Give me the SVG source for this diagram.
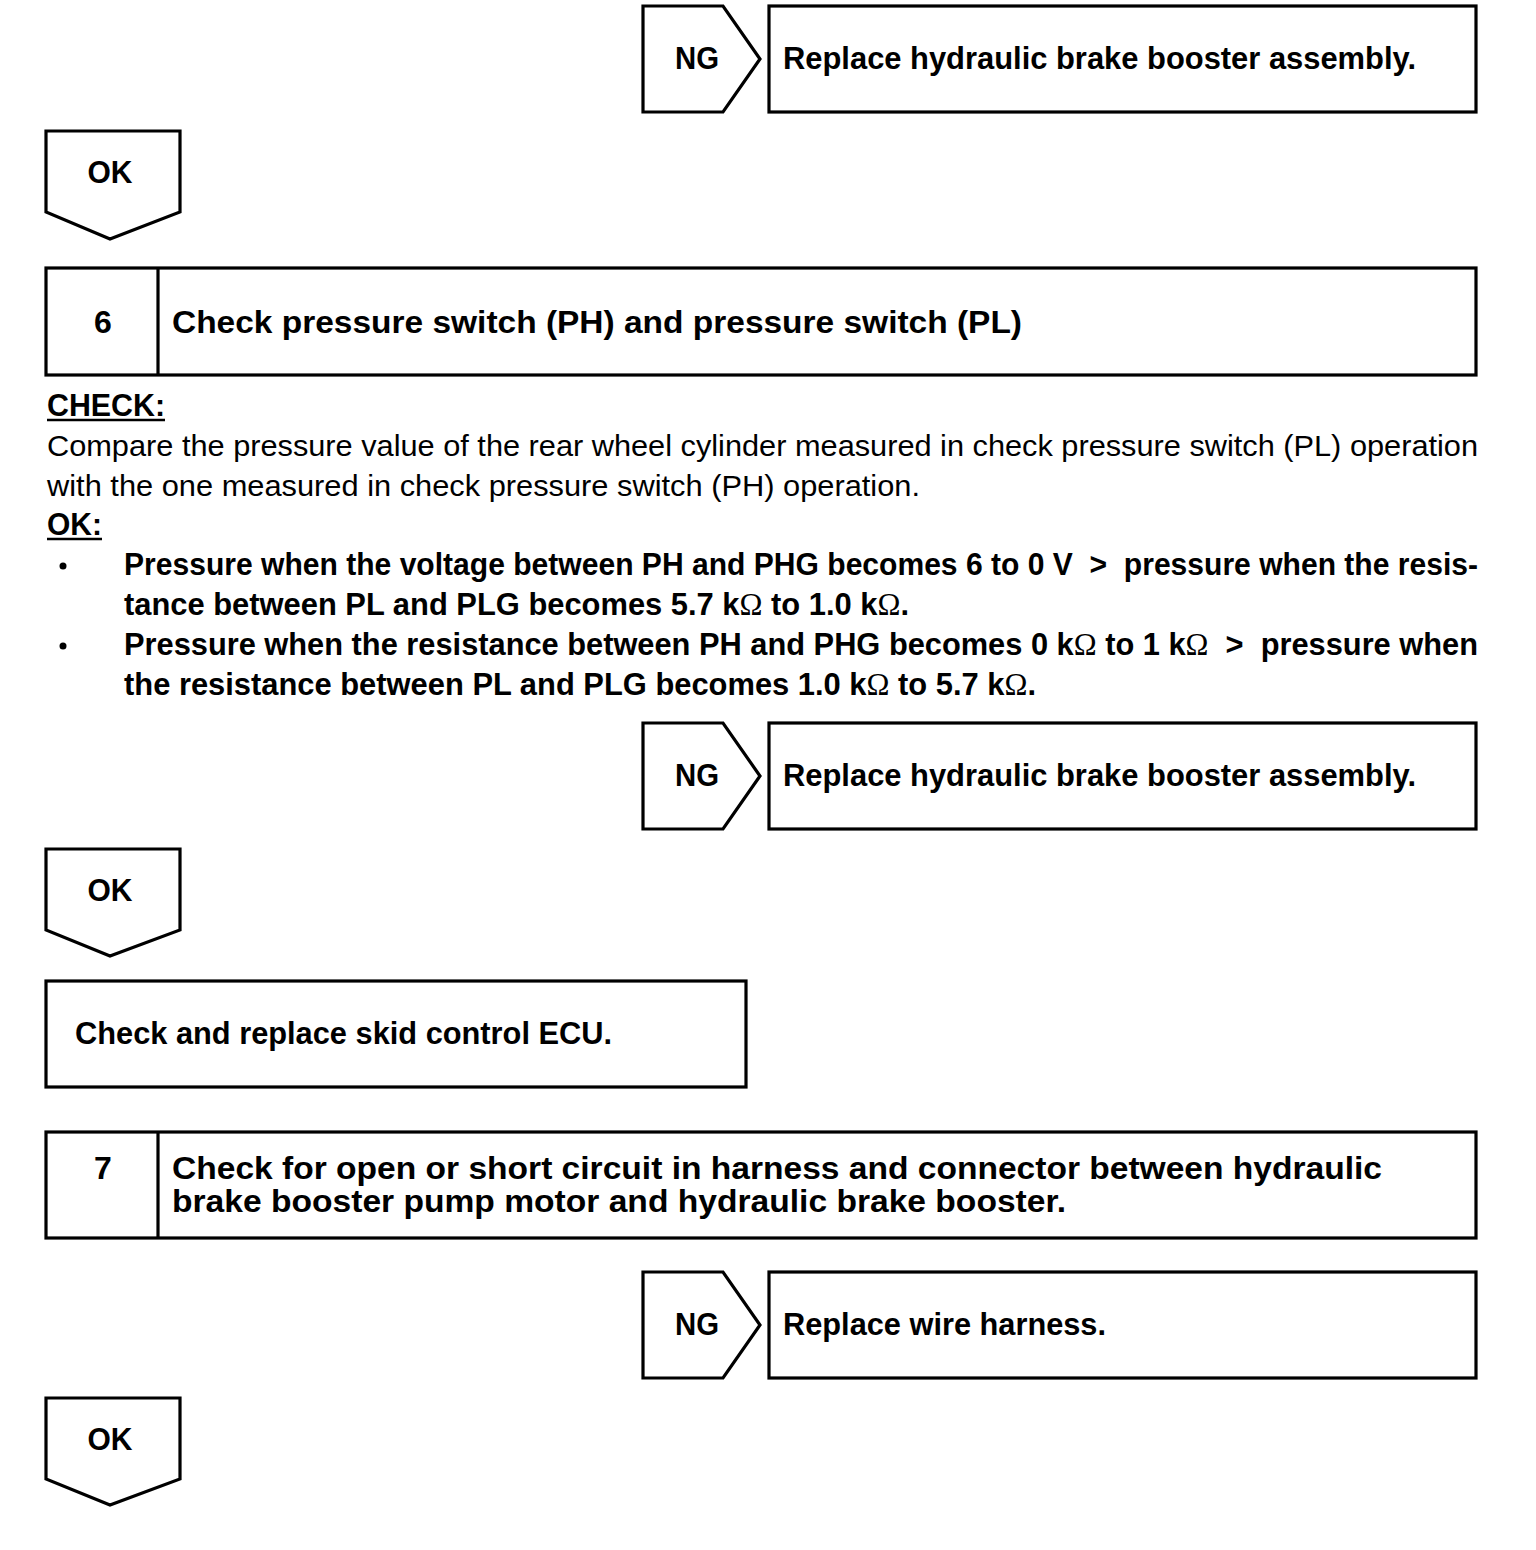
<svg xmlns="http://www.w3.org/2000/svg" width="1536" height="1550" viewBox="0 0 1536 1550">
<style>
.s{fill:#fff;stroke:#000;stroke-width:3.2;stroke-linejoin:miter}
.b{font-family:"Liberation Sans",Arial,sans-serif;font-weight:bold;font-size:32px;fill:#000;white-space:pre}
.bl{font-size:30.5px}
.r{font-family:"Liberation Sans",Arial,sans-serif;font-size:30px;fill:#000}
.o{font-family:"Liberation Serif","Times New Roman",serif;font-weight:normal}
</style>
<rect width="1536" height="1550" fill="#fff"/>
<g id="connectors"></g>
<g id="ng1"><path class="s" d="M643,6 H723 L760,59 L723,112 H643 Z"/><text class="b" x="697" y="69" text-anchor="middle" textLength="44" lengthAdjust="spacingAndGlyphs">NG</text></g>
<g id="res1"><rect class="s" x="769" y="6" width="707" height="106"/><text class="b" x="783" y="69" textLength="633" lengthAdjust="spacingAndGlyphs">Replace hydraulic brake booster assembly.</text></g>
<g id="ok1"><path class="s" d="M46,131 H180 V212 L110,239 L46,212 Z"/><text class="b" x="110" y="183" text-anchor="middle" textLength="45" lengthAdjust="spacingAndGlyphs">OK</text></g>
<g id="step6"><rect class="s" x="46" y="268" width="1430" height="107"/><line class="s" x1="158" y1="268" x2="158" y2="375"/><text class="b" x="103" y="333" text-anchor="middle">6</text><text class="b" x="172" y="333" textLength="850" lengthAdjust="spacingAndGlyphs">Check pressure switch (PH) and pressure switch (PL)</text></g>
<g id="check6">
<text class="b" x="47" y="416" textLength="118" lengthAdjust="spacingAndGlyphs">CHECK:</text><line x1="47" y1="420" x2="165" y2="420" stroke="#000" stroke-width="2.5"/>
<text class="r" x="47" y="456" textLength="1431" lengthAdjust="spacingAndGlyphs">Compare the pressure value of the rear wheel cylinder measured in check pressure switch (PL) operation</text>
<text class="r" x="47" y="496" textLength="873" lengthAdjust="spacingAndGlyphs">with the one measured in check pressure switch (PH) operation.</text>
<text class="b" x="47" y="535" textLength="55" lengthAdjust="spacingAndGlyphs">OK:</text><line x1="47" y1="539" x2="102" y2="539" stroke="#000" stroke-width="2.5"/>
<circle cx="63" cy="566" r="3.5"/><circle cx="63" cy="646" r="3.5"/>
<text class="b bl" x="124" y="575" textLength="1354" lengthAdjust="spacingAndGlyphs">Pressure when the voltage between PH and PHG becomes 6 to 0 V  &gt;  pressure when the resis-</text>
<text class="b bl" x="124" y="615" textLength="785" lengthAdjust="spacingAndGlyphs">tance between PL and PLG becomes 5.7 k<tspan class="o">Ω</tspan> to 1.0 k<tspan class="o">Ω</tspan>.</text>
<text class="b bl" x="124" y="655" textLength="1354" lengthAdjust="spacingAndGlyphs">Pressure when the resistance between PH and PHG becomes 0 k<tspan class="o">Ω</tspan> to 1 k<tspan class="o">Ω</tspan>  &gt;  pressure when</text>
<text class="b bl" x="124" y="695" textLength="912" lengthAdjust="spacingAndGlyphs">the resistance between PL and PLG becomes 1.0 k<tspan class="o">Ω</tspan> to 5.7 k<tspan class="o">Ω</tspan>.</text>
</g>
<g id="ng2"><path class="s" d="M643,723 H723 L760,776 L723,829 H643 Z"/><text class="b" x="697" y="786" text-anchor="middle" textLength="44" lengthAdjust="spacingAndGlyphs">NG</text></g>
<g id="res2"><rect class="s" x="769" y="723" width="707" height="106"/><text class="b" x="783" y="786" textLength="633" lengthAdjust="spacingAndGlyphs">Replace hydraulic brake booster assembly.</text></g>
<g id="ok2"><path class="s" d="M46,849 H180 V930 L110,956 L46,930 Z"/><text class="b" x="110" y="901" text-anchor="middle" textLength="45" lengthAdjust="spacingAndGlyphs">OK</text></g>
<g id="ecu"><rect class="s" x="46" y="981" width="700" height="106"/><text class="b" x="75" y="1044" textLength="537" lengthAdjust="spacingAndGlyphs">Check and replace skid control ECU.</text></g>
<g id="step7"><rect class="s" x="46" y="1132" width="1430" height="106"/><line class="s" x1="158" y1="1132" x2="158" y2="1238"/><text class="b" x="103" y="1179" text-anchor="middle">7</text>
<text class="b" x="172" y="1179" textLength="1210" lengthAdjust="spacingAndGlyphs">Check for open or short circuit in harness and connector between hydraulic</text>
<text class="b" x="172" y="1212" textLength="894" lengthAdjust="spacingAndGlyphs">brake booster pump motor and hydraulic brake booster.</text></g>
<g id="ng3"><path class="s" d="M643,1272 H723 L760,1325 L723,1378 H643 Z"/><text class="b" x="697" y="1335" text-anchor="middle" textLength="44" lengthAdjust="spacingAndGlyphs">NG</text></g>
<g id="res3"><rect class="s" x="769" y="1272" width="707" height="106"/><text class="b" x="783" y="1335" textLength="323" lengthAdjust="spacingAndGlyphs">Replace wire harness.</text></g>
<g id="ok3"><path class="s" d="M46,1398 H180 V1479 L110,1505 L46,1479 Z"/><text class="b" x="110" y="1450" text-anchor="middle" textLength="45" lengthAdjust="spacingAndGlyphs">OK</text></g>
</svg>
